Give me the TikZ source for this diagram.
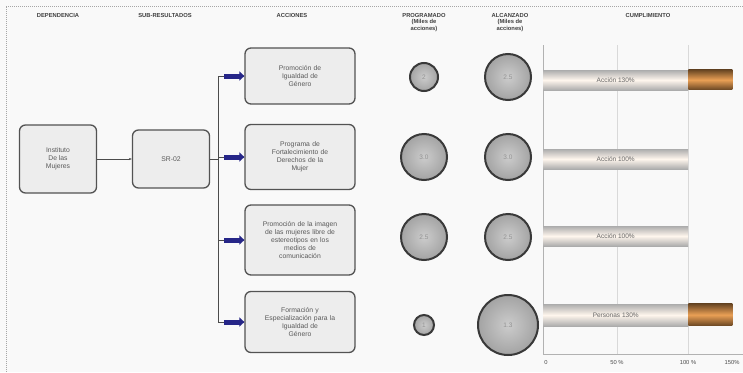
\documentclass[tikz,border=0pt]{standalone}
\usepackage{fontspec}
\setmainfont{Liberation Sans}
\usetikzlibrary{arrows.meta, positioning, calc}

\begin{document}
\begin{tikzpicture}[x=1pt, y=-1pt,
    head/.style={font=\fontsize{5.8}{6.4}\selectfont\bfseries, text=black!75, align=center, anchor=north},
    box/.style={
        rectangle, rounded corners=6pt, draw=gray!65!black, line width=1.3pt,
        fill=gray!14, align=center, text=black!65,
        font=\fontsize{6.8}{8}\selectfont, inner sep=2pt
    },
    ball/.style={
        circle, draw=gray!45!black, line width=2pt,
        inner color=gray!40, outer color=gray!72,
        font=\fontsize{6.5}{7}\selectfont, text=gray!85, inner sep=0pt
    },
    link/.style={draw=black!70, line width=0.6pt},
    blockarr/.style={-{Triangle[length=5pt, width=9pt]}, line width=5pt, draw=blue!45!black!85},
    bar/.style={
        rectangle, draw=none, anchor=west, inner sep=0pt,
        top color=gray!65, bottom color=gray!65, middle color=orange!7,
        font=\fontsize{6.5}{7}\selectfont, text=black!60
    },
    extra/.style={top color=brown!55!black, bottom color=brown!55!black, middle color=brown!45!orange!75},
    tick/.style={font=\fontsize{5.8}{6}\selectfont, text=black!70, anchor=north}
]
% canvas and dotted frame
\useasboundingbox (0,0) rectangle (743,372);
\fill[gray!5] (0,0) rectangle (743,372);
\draw[gray!70, densely dotted, line width=1pt] (6,372) -- (6,6) -- (743,6);

% column titles
\node[head] (h1) at (58,10) {DEPENDENCIA};
\node[head] (h2) at (165,10) {SUB-RESULTADOS};
\node[head] (h3) at (292,10) {ACCIONES};
\node[head] (h4) at (424,10) {PROGRAMADO\\(Miles de\\acciones)};
\node[head] (h5) at (510,10) {ALCANZADO\\(Miles de\\acciones)};
\node[head] (h6) at (648,10) {CUMPLIMIENTO};

% tree
\node[box, minimum width=77, minimum height=68] (inst) at (58,159) {Instituto\\De las\\Mujeres};
\node[box, minimum width=77, minimum height=58] (sr) at (171,159) {SR-02};
\draw[link, -{Stealth[length=3pt]}] (inst) -- (sr);

\node[box, text width=104, minimum width=110, minimum height=56] (a1) at (300,76) {Promoción de\\Igualdad de\\Género};
\node[box, text width=104, minimum width=110, minimum height=65] (a2) at (300,157) {Programa de\\Fortalecimiento de\\Derechos de la\\Mujer};
\node[box, text width=106, minimum width=110, minimum height=70] (a3) at (300,240) {Promoción de la imagen\\de las mujeres libre de\\estereotipos en los\\medios de\\comunicación};
\node[box, text width=106, minimum width=110, minimum height=61] (a4) at (300,322) {Formación y\\Especialización para la\\Igualdad de\\Género};

\coordinate (bus) at (218,159);
\draw[link] (sr) -- (bus);
\draw[link] (bus |- a1.west) -- (bus |- a4.west);
\foreach \a in {a1,a2,a3,a4} {
    \draw[link] (bus |- \a.west) -- (\a.west);
    \draw[blockarr] ($(\a.west)+(-20,0)$) -- (\a.west);
}

% programado / alcanzado
\node[ball, minimum size=28] (p1) at (424,77) {2};
\node[ball, minimum size=46] (c1) at (508,77) {2.5};
\node[ball, minimum size=46] (p2) at (424,157) {3.0};
\node[ball, minimum size=46] (c2) at (508,157) {3.0};
\node[ball, minimum size=46] (p3) at (424,237) {2.5};
\node[ball, minimum size=46] (c3) at (508,237) {2.5};
\node[ball, minimum size=20] (p4) at (424,325) {1};
\node[ball, minimum size=60] (c4) at (508,325) {1.3};

% cumplimiento chart
\draw[gray!30, line width=0.5pt] (617,45) -- (617,354);
\draw[gray!30, line width=0.5pt] (688,45) -- (688,354);
\draw[gray!60, line width=1pt] (543,45) -- (543,354) -- (743,354);
\node[tick] (t0) at (546,357) {0};
\node[tick] (t50) at (617,357) {50 \%};
\node[tick] (t100) at (688,357) {100 \%};
\node[tick, anchor=north east] (t150) at (743,357) {150\%};

\node[bar, minimum width=145, minimum height=20] (b1) at (543,80) {Acción 130\%};
\shade[extra] (b1.north east) rectangle ++(44,20);
\node[bar, minimum width=145, minimum height=20] (b2) at (543,159) {Acción 100\%};
\node[bar, minimum width=145, minimum height=20] (b3) at (543,236) {Acción 100\%};
\node[bar, minimum width=145, minimum height=22] (b4) at (543,315) {Personas 130\%};
\shade[extra] (b4.north east) rectangle ++(44,22);

\end{tikzpicture}
\end{document}
